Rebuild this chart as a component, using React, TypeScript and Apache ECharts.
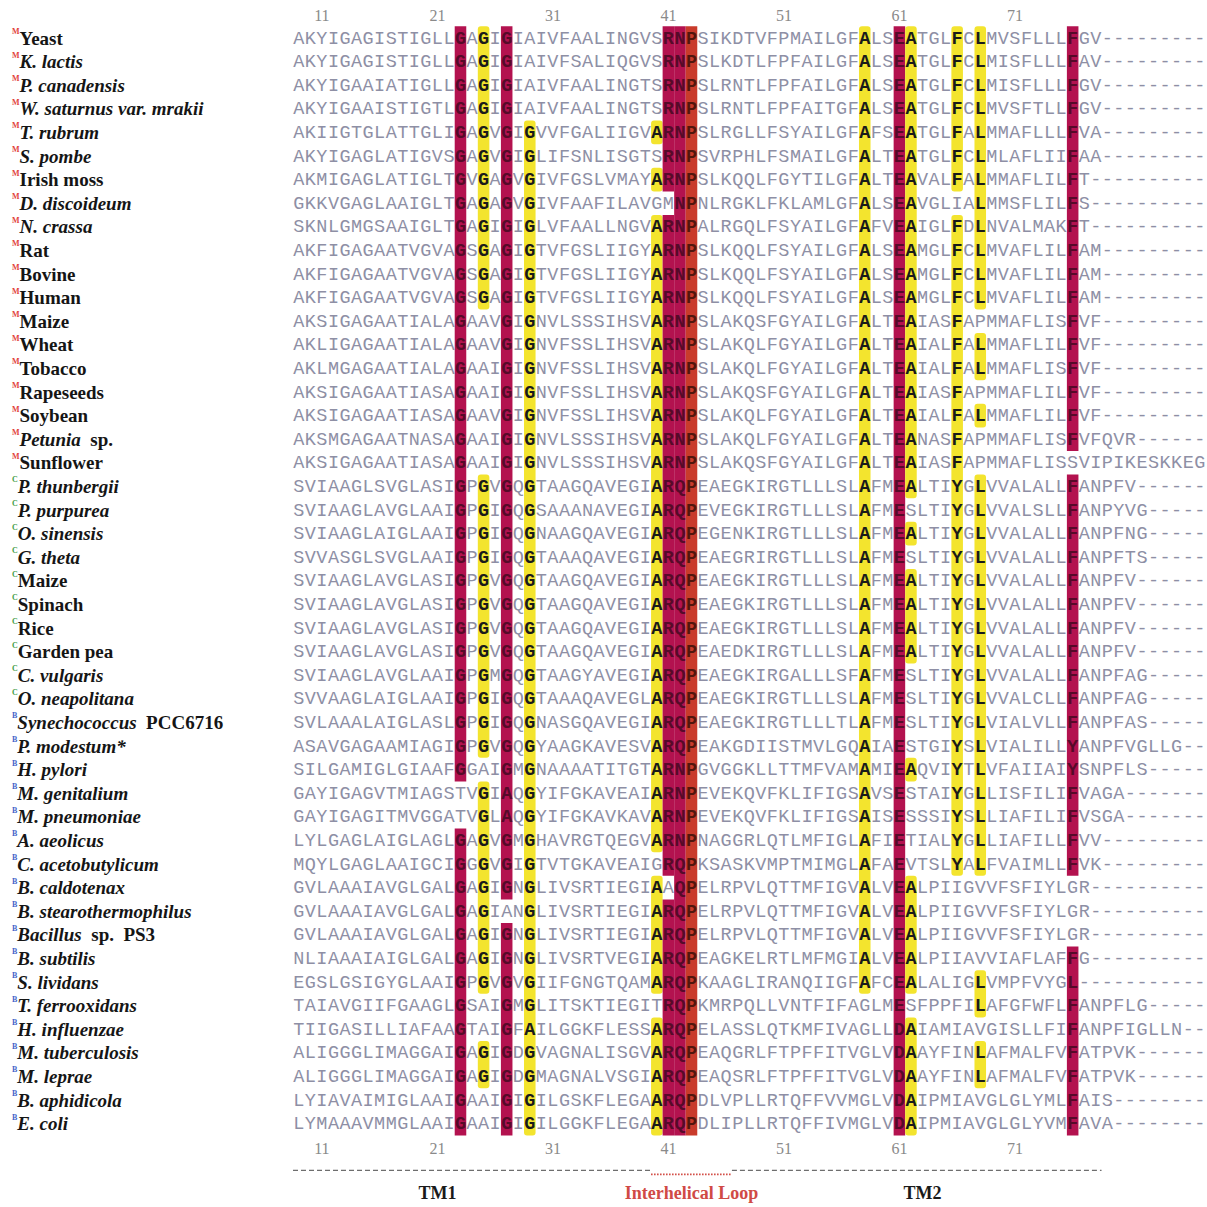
import React, { useEffect, useRef } from 'react';
import * as echarts from 'echarts';

// ---------------- data ----------------
const firstResidue = 9; // alignment column 0 = residue 9 (E. coli numbering)
const tickLabels = [11, 21, 31, 41, 51, 61, 71];

const speciesLabels: string[] = [
  'Yeast', '_K. lactis_', '_P. canadensis_', '_W. saturnus var. mrakii_', '_T. rubrum_', '_S. pombe_',
  'Irish moss', '_D. discoideum_', '_N. crassa_', 'Rat', 'Bovine', 'Human', 'Maize', 'Wheat', 'Tobacco',
  'Rapeseeds', 'Soybean', '_Petunia_  sp.', 'Sunflower',
  '_P. thunbergii_', '_P. purpurea_', '_O. sinensis_', '_G. theta_', 'Maize', 'Spinach', 'Rice', 'Garden pea',
  '_C. vulgaris_', '_O. neapolitana_',
  '_Synechococcus_  PCC6716', '_P. modestum*_', '_H. pylori_', '_M. genitalium_', '_M. pneumoniae_', '_A. aeolicus_',
  '_C. acetobutylicum_', '_B. caldotenax_', '_B. stearothermophilus_', '_Bacillus_  sp.  PS3', '_B. subtilis_',
  '_S. lividans_', '_T. ferrooxidans_', '_H. influenzae_', '_M. tuberculosis_', '_M. leprae_', '_B. aphidicola_', '_E. coli_',
];

// M = mitochondrial, C = chloroplast, B = bacterial
const speciesGroups: string[] = [
  'M', 'M', 'M', 'M', 'M', 'M', 'M', 'M', 'M', 'M', 'M', 'M', 'M', 'M', 'M', 'M', 'M', 'M', 'M',
  'C', 'C', 'C', 'C', 'C', 'C', 'C', 'C', 'C', 'C',
  'B', 'B', 'B', 'B', 'B', 'B', 'B', 'B', 'B', 'B', 'B', 'B', 'B', 'B', 'B', 'B', 'B', 'B',
];

const sequences: string[] = [
  'AKYIGAGISTIGLLGAGIGIAIVFAALINGVSRNPSIKDTVFPMAILGFALSEATGLFCLMVSFLLLFGV---------',
  'AKYIGAGISTIGLLGAGIGIAIVFSALIQGVSRNPSLKDTLFPFAILGFALSEATGLFCLMISFLLLFAV---------',
  'AKYIGAAIATIGLLGAGIGIAIVFAALINGTSRNPSLRNTLFPFAILGFALSEATGLFCLMISFLLLFGV---------',
  'AKYIGAAISTIGTLGAGIGIAIVFAALINGTSRNPSLRNTLFPFAITGFALSEATGLFCLMVSFTLLFGV---------',
  'AKIIGTGLATTGLIGAGVGIGVVFGALIIGVARNPSLRGLLFSYAILGFAFSEATGLFALMMAFLLLFVA---------',
  'AKYIGAGLATIGVSGAGVGIGLIFSNLISGTSRNPSVRPHLFSMAILGFALTEATGLFCLMLAFLIIFAA---------',
  'AKMIGAGLATIGLTGVGAGVGIVFGSLVMAYARNPSLKQQLFGYTILGFALTEAVALFALMMAFLILFT----------',
  'GKKVGAGLAAIGLTGAGAGVGIVFAAFILAVGMNPNLRGKLFKLAMLGFALSEAVGLIALMMSFLILFS----------',
  'SKNLGMGSAAIGLTGAGIGIGLVFAALLNGVARNPALRGQLFSYAILGFAFVEAIGLFDLNVALMAKFT----------',
  'AKFIGAGAATVGVAGSGAGIGTVFGSLIIGYARNPSLKQQLFSYAILGFALSEAMGLFCLMVAFLILFAM---------',
  'AKFIGAGAATVGVAGSGAGIGTVFGSLIIGYARNPSLKQQLFSYAILGFALSEAMGLFCLMVAFLILFAM---------',
  'AKFIGAGAATVGVAGSGAGIGTVFGSLIIGYARNPSLKQQLFSYAILGFALSEAMGLFCLMVAFLILFAM---------',
  'AKSIGAGAATIALAGAAVGIGNVLSSSIHSVARNPSLAKQSFGYAILGFALTEAIASFAPMMAFLISFVF---------',
  'AKLIGAGAATIALAGAAVGIGNVFSSLIHSVARNPSLAKQLFGYAILGFALTEAIALFALMMAFLILFVF---------',
  'AKLMGAGAATIALAGAAIGIGNVFSSLIHSVARNPSLAKQLFGYAILGFALTEAIALFALMMAFLISFVF---------',
  'AKSIGAGAATIASAGAAIGIGNVFSSLIHSVARNPSLAKQSFGYAILGFALTEAIASFAPMMAFLILFVF---------',
  'AKSIGAGAATIASAGAAVGIGNVFSSLIHSVARNPSLAKQLFGYAILGFALTEAIALFALMMAFLILFVF---------',
  'AKSMGAGAATNASAGAAIGIGNVLSSSIHSVARNPSLAKQLFGYAILGFALTEANASFAPMMAFLISFVFQVR------',
  'AKSIGAGAATIASAGAAIGIGNVLSSSIHSVARNPSLAKQSFGYAILGFALTEAIASFAPMMAFLISSVIPIKESKKEG',
  'SVIAAGLSVGLASIGPGVGQGTAAGQAVEGIARQPEAEGKIRGTLLLSLAFMEALTIYGLVVALALLFANPFV------',
  'SVIAAGLAVGLAAIGPGIGQGSAAANAVEGIARQPEVEGKIRGTLLLSLAFMESLTIYGLVVALSLLFANPYVG-----',
  'SVIAAGLAIGLAAIGPGIGQGNAAGQAVEGIARQPEGENKIRGTLLLSLAFMEALTIYGLVVALALLFANPFNG-----',
  'SVVASGLSVGLAAIGPGIGQGTAAAQAVEGIARQPEAEGRIRGTLLLSLAFMESLTIYGLVVALALLFANPFTS-----',
  'SVIAAGLAVGLASIGPGVGQGTAAGQAVEGIARQPEAEGKIRGTLLLSLAFMEALTIYGLVVALALLFANPFV------',
  'SVIAAGLAVGLASIGPGVGQGTAAGQAVEGIARQPEAEGKIRGTLLLSLAFMEALTIYGLVVALALLFANPFV------',
  'SVIAAGLAVGLASIGPGVGQGTAAGQAVEGIARQPEAEGKIRGTLLLSLAFMEALTIYGLVVALALLFANPFV------',
  'SVIAAGLAVGLASIGPGVGQGTAAGQAVEGIARQPEAEDKIRGTLLLSLAFMEALTIYGLVVALALLFANPFV------',
  'SVIAAGLAVGLAAIGPGMGQGTAAGYAVEGIARQPEAEGKIRGALLLSFAFMESLTIYGLVVALALLFANPFAG-----',
  'SVVAAGLAIGLAAIGPGIGQGTAAAQAVEGLARQPEAEGKIRGTLLLSLAFMESLTIYGLVVALCLLFANPFAG-----',
  'SVLAAALAIGLASLGPGIGQGNASGQAVEGIARQPEAEGKIRGTLLLTLAFMESLTIYGLVIALVLLFANPFAS-----',
  'ASAVGAGAAMIAGIGPGVGQGYAAGKAVESVARQPEAKGDIISTMVLGQAIAESTGIYSLVIALILLYANPFVGLLG--',
  'SILGAMIGLGIAAFGGAIGMGNAAAATITGTARNPGVGGKLLTTMFVAMAMIEAQVIYTLVFAIIAIYSNPFLS-----',
  'GAYIGAGVTMIAGSTVGIAQGYIFGKAVEAIARNPEVEKQVFKLIFIGSAVSESTAIYGLLISFILIFVAGA-------',
  'GAYIGAGITMVGGATVGLAQGYIFGKAVKAVARNPEVEKQVFKLIFIGSAISESSSIYSLLIAFILIFVSGA-------',
  'LYLGAGLAIGLAGLGAGVGMGHAVRGTQEGVARNPNAGGRLQTLMFIGLAFIETIALYGLLIAFILLFVV---------',
  'MQYLGAGLAAIGCIGGGVGIGTVTGKAVEAIGRQPKSASKVMPTMIMGLAFAEVTSLYALFVAIMLLFVK---------',
  'GVLAAAIAVGLGALGAGIGNGLIVSRTIEGIAAQPELRPVLQTTMFIGVALVEALPIIGVVFSFIYLGR----------',
  'GVLAAAIAVGLGALGAGIANGLIVSRTIEGIARQPELRPVLQTTMFIGVALVEALPIIGVVFSFIYLGR----------',
  'GVLAAAIAVGLGALGAGIGNGLIVSRTIEGIARQPELRPVLQTTMFIGVALVEALPIIGVVFSFIYLGR----------',
  'NLIAAAIAIGLGALGAGIGNGLIVSRTVEGIARQPEAGKELRTLMFMGIALVEALPIIAVVIAFLAFFG----------',
  'EGSLGSIGYGLAAIGPGVGVGIIFGNGTQAMARQPKAAGLIRANQIIGFAFCEALALIGLVMPFVYGL-----------',
  'TAIAVGIIFGAAGLGSAIGMGLITSKTIEGITRQPKMRPQLLVNTFIFAGLMESFPPFILAFGFWFLFANPFLG-----',
  'TIIGASILLIAFAAGTAIGFAILGGKFLESSARQPELASSLQTKMFIVAGLLDAIAMIAVGISLLFIFANPFIGLLN--',
  'ALIGGGLIMAGGAIGAGIGDGVAGNALISGVARQPEAQGRLFTPFFITVGLVDAAYFINLAFMALFVFATPVK------',
  'ALIGGGLIMAGGAIGAGIGDGMAGNALVSGIARQPEAQSRLFTPFFITVGLVDAAYFINLAFMALFVFATPVK------',
  'LYIAVAIMIGLAAIGAAIGIGILGSKFLEGAARQPDLVPLLRTQFFVVMGLVDAIPMIAVGLGLYMLFAIS--------',
  'LYMAAAVMMGLAAIGAAIGIGILGGKFLEGAARQPDLIPLLRTQFFIVMGLVDAIPMIAVGLGLYVMFAVA--------',
];

// highlighted column runs: [column, firstRow, lastRow, kind]  (r = crimson, y = yellow, o = red-orange)
const highlightRuns: [number, number, number, string][] = [
  [14, 0, 31, 'r'], [14, 34, 46, 'r'],
  [16, 0, 11, 'y'], [16, 19, 30, 'y'], [16, 32, 40, 'y'], [16, 43, 44, 'y'],
  [18, 0, 36, 'r'], [18, 38, 46, 'r'],
  [20, 4, 46, 'y'],
  [31, 4, 4, 'y'], [31, 6, 6, 'y'], [31, 8, 34, 'y'], [31, 36, 40, 'y'], [31, 42, 46, 'y'],
  [32, 0, 6, 'r'], [32, 8, 35, 'r'], [32, 37, 46, 'r'],
  [33, 0, 46, 'r'],
  [34, 0, 46, 'o'],
  [49, 0, 40, 'y'],
  [52, 0, 46, 'r'],
  [53, 0, 19, 'y'], [53, 21, 21, 'y'], [53, 23, 26, 'y'], [53, 31, 31, 'y'], [53, 36, 40, 'y'], [53, 42, 46, 'y'],
  [57, 0, 6, 'y'], [57, 8, 35, 'y'],
  [59, 0, 11, 'y'], [59, 13, 14, 'y'], [59, 16, 16, 'y'], [59, 19, 35, 'y'], [59, 40, 41, 'y'], [59, 43, 44, 'y'],
  [67, 0, 17, 'r'], [67, 19, 35, 'r'], [67, 39, 46, 'r'],
];

// segments under the alignment
const segmentNames = ['TM1', 'Interhelical Loop', 'TM2'];
const segmentStart = [0, 31, 38];
const segmentEnd = [30, 37, 69];
const segmentLabelCol = [12, 34, 54];

// ---------------- styles ----------------
const FILL: Record<string, string> = { r: '#b3124f', y: '#f3e42e', o: '#c93b2b' };
const TEXT: Record<string, string> = { '': '#8e8fa5', r: '#560a29', y: '#1a1a1a', o: '#52160d' };
const GROUP_COLOR: Record<string, string> = { M: '#e2413d', C: '#3f9d48', B: '#4565c9' };

const nCols = sequences[0].length;
const nRows = sequences.length;

export default function App() {
  const ref = useRef<HTMLDivElement>(null);

  useEffect(() => {
    if (!ref.current) return;
    const chart = echarts.init(ref.current, undefined, { renderer: 'svg' });

    const mask: string[][] = sequences.map((s) => Array.from(s).map(() => ''));
    highlightRuns.forEach(([c, r0, r1, k]) => {
      for (let r = r0; r <= r1; r++) mask[r][c] = k;
    });

    const positions = Array.from(sequences[0]).map((_, i) => String(i + firstResidue));

    const numberLabel = {
      color: '#8a8a8a',
      fontFamily: 'Liberation Serif',
      fontSize: 16,
      interval: (_i: number, v: string) => tickLabels.includes(Number(v)),
    };

    const rich: any = {
      rm: { fontFamily: 'Liberation Serif', fontWeight: 'bold', fontSize: 19, color: '#151515', lineHeight: 21 },
      it: { fontFamily: 'Liberation Serif', fontWeight: 'bold', fontStyle: 'italic', fontSize: 19, color: '#151515', lineHeight: 21 },
    };
    Object.keys(GROUP_COLOR).forEach((g) => {
      rich['s' + g] = { fontFamily: 'Liberation Serif', fontWeight: 'bold', fontSize: 8, color: GROUP_COLOR[g], verticalAlign: 'top', lineHeight: 12 };
    });

    chart.setOption({
      animation: false,
      backgroundColor: '#ffffff',
      grid: { left: 293, right: 1.5, top: 26.2, bottom: 71.6 },
      xAxis: [
        { type: 'value', min: -0.5, max: nCols - 0.5, show: false },
        {
          type: 'category', position: 'top', data: positions, boundaryGap: true,
          axisLine: { show: false }, axisTick: { show: false }, splitLine: { show: false },
          axisLabel: { ...numberLabel, margin: 3 },
        },
        {
          type: 'category', position: 'bottom', data: positions, boundaryGap: true,
          axisLine: { show: false }, axisTick: { show: false }, splitLine: { show: false },
          axisLabel: { ...numberLabel, margin: 5 },
        },
      ],
      yAxis: [
        {
          type: 'category', data: speciesLabels, inverse: true, position: 'left',
          axisLine: { show: false }, axisTick: { show: false }, splitLine: { show: false },
          axisLabel: {
            interval: 0, align: 'left', margin: 281, rich,
            formatter: (value: string, idx: number) => {
              const g = speciesGroups[idx];
              let s = `{s${g}|${g}}`;
              value.split('_').forEach((p, i) => {
                if (p) s += `{${i % 2 === 1 ? 'it' : 'rm'}|${p}}`;
              });
              return s;
            },
          },
        },
        { type: 'value', min: -0.5, max: nRows - 0.5, inverse: true, show: false },
      ],
      series: [
        {
          type: 'custom', xAxisIndex: 0, yAxisIndex: 1, z: 2, silent: true,
          data: highlightRuns.map((h) => [h[0], h[1], h[2]]),
          renderItem: (params: any, api: any) => {
            const run = highlightRuns[params.dataIndex];
            const p0 = api.coord([run[0] - 0.5, run[1] - 0.5]);
            const p1 = api.coord([run[0] + 0.5, run[2] + 0.5]);
            return {
              type: 'rect',
              shape: { x: p0[0], y: p0[1], width: p1[0] - p0[0], height: p1[1] - p0[1], r: run[3] === 'y' ? 3 : 0 },
              style: { fill: FILL[run[3]] },
            };
          },
        },
        {
          type: 'custom', xAxisIndex: 0, yAxisIndex: 1, z: 3, silent: true,
          data: sequences.map((_, i) => [0, i]),
          renderItem: (params: any, api: any) => {
            const row = params.dataIndex;
            const seq = sequences[row];
            const children: any[] = [];
            for (let c = 0; c < seq.length; c++) {
              const k = mask[row][c];
              const p = api.coord([c, row]);
              children.push({
                type: 'text', x: p[0], y: p[1] + 1,
                style: {
                  text: seq[c], fill: TEXT[k],
                  font: `${k ? 'bold ' : ''}18.5px "Liberation Mono", "Courier New", monospace`,
                  align: 'center', verticalAlign: 'middle',
                },
              });
            }
            return { type: 'group', children };
          },
        },
        {
          type: 'custom', xAxisIndex: 0, yAxisIndex: 1, z: 3, silent: true,
          data: segmentNames.map((_, i) => [segmentStart[i], segmentEnd[i]]),
          renderItem: (params: any, api: any) => {
            const i = params.dataIndex;
            const cs = params.coordSys;
            const yb = cs.y + cs.height;
            const x0 = api.coord([segmentStart[i] - 0.5, 0])[0];
            const x1 = api.coord([segmentEnd[i] + 0.5, 0])[0];
            const xl = api.coord([segmentLabelCol[i], 0])[0];
            const loop = segmentNames[i] === 'Interhelical Loop';
            return {
              type: 'group',
              children: [
                {
                  type: 'line',
                  shape: { x1: x0, y1: yb + (loop ? 39 : 35), x2: x1, y2: yb + (loop ? 39 : 35) },
                  style: loop
                    ? { stroke: '#d0453d', lineWidth: 1.6, lineDash: [1.5, 1.5] }
                    : { stroke: '#6e6e6e', lineWidth: 1.4, lineDash: [5, 3] },
                },
                {
                  type: 'text', x: xl, y: yb + 58,
                  style: {
                    text: segmentNames[i], fill: loop ? '#d04a45' : '#1a1a1a',
                    font: 'bold 18px "Liberation Serif", serif',
                    align: 'center', verticalAlign: 'middle',
                  },
                },
              ],
            };
          },
        },
      ],
    });

    return () => chart.dispose();
  }, []);

  return (
    <div
      ref={ref}
      style={{ position: 'absolute', left: 0, top: 0, width: 1207, height: 1207, background: '#fff' }}
    />
  );
}
